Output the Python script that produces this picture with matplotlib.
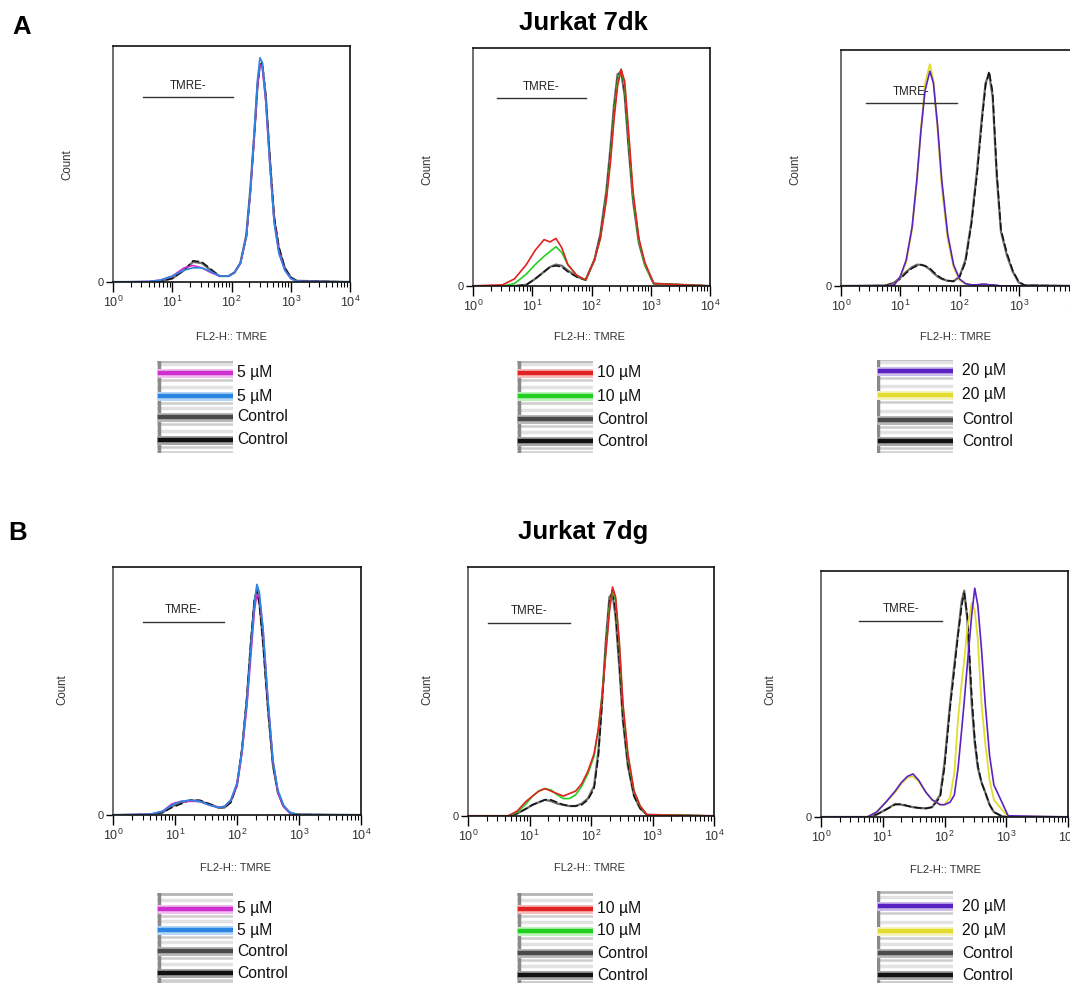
import numpy as np
import matplotlib
matplotlib.use("Agg")
import matplotlib.pyplot as plt
from matplotlib.ticker import FixedLocator, NullFormatter, FixedFormatter

plt.rcParams['font.family'] = ['Liberation Sans', 'DejaVu Sans']
plt.rcParams['mathtext.fontset'] = 'custom'
plt.rcParams['mathtext.rm'] = 'Liberation Sans'

# ---------------- data (x = log10 FL2-H, y = % of axis height) ----------------
X_A1 = [0.0, 0.6, 0.8, 1.0, 1.2, 1.35, 1.5, 1.65, 1.8, 1.95, 2.05, 2.15, 2.25, 2.32, 2.38, 2.44, 2.48, 2.52, 2.58, 2.65, 2.72, 2.8, 2.9, 3.0, 3.1, 4.0]
A1_5uM_a = [0, 0.2, 0.8, 2.5, 6, 7, 6, 4, 2.5, 2.5, 4, 8, 19, 38, 60, 83, 92, 91, 76, 49, 26, 13, 5, 1.5, 0.3, 0]
A1_5uM_b = [0, 0.2, 0.8, 2.5, 5, 6, 6, 4.5, 2.5, 2.5, 4, 8, 19, 39, 62, 86, 95, 93, 77, 49, 25, 12, 5, 1.5, 0.3, 0]
A1_ctrl_a = [0, 0, 0.3, 1.5, 5, 8.5, 8, 5, 2.5, 2.5, 4, 8, 20, 40, 61, 84, 92, 92, 78, 51, 27, 14, 6, 2, 0.5, 0]
A1_ctrl_b = [0, 0, 0.3, 1.5, 5, 9, 8.5, 5.5, 2.5, 2.5, 4, 8, 19, 39, 60, 83, 92, 93, 79, 52, 28, 15, 6, 2, 0.5, 0]

X_A2 = [0.0, 0.5, 0.7, 0.9, 1.05, 1.2, 1.3, 1.4, 1.5, 1.6, 1.75, 1.9, 2.05, 2.15, 2.25, 2.32, 2.38, 2.44, 2.5, 2.56, 2.62, 2.7, 2.8, 2.9, 3.05, 4.0]
A2_10uM_a = [0, 0.5, 3, 9, 15, 19.5, 18.5, 20, 16, 9, 4.5, 2.5, 11, 20, 36, 52, 70, 84, 91, 86, 67, 40, 20, 10, 1, 0]
A2_10uM_b = [0, 0, 1, 5, 9, 12.5, 14.5, 16.5, 14, 9, 4.5, 2.5, 11, 20, 37, 54, 72, 86, 91, 84, 64, 38, 19, 9, 1, 0]
A2_ctrl_a = [0, 0, 0, 0.5, 3, 6, 8, 9, 8.5, 6.5, 4, 2.5, 11, 22, 40, 58, 76, 89, 90, 80, 60, 36, 18, 9, 1, 0]
A2_ctrl_b = [0, 0, 0, 0.5, 3, 6, 8, 8.5, 8, 6, 3.8, 2.5, 11, 21, 38, 56, 74, 87, 91, 82, 62, 37, 19, 9, 1, 0]

X_A3 = [0.0, 0.75, 0.9, 1.0, 1.1, 1.2, 1.28, 1.35, 1.42, 1.5, 1.56, 1.63, 1.7, 1.8, 1.9, 2.0, 2.1, 2.2, 2.3, 2.38, 2.44, 2.5, 2.56, 2.63, 2.7, 2.8, 2.9, 3.0, 3.1, 4.0]
A3_20uM_a = [0, 0, 0.5, 4, 11, 25, 45, 66, 83, 91, 86, 68, 45, 22, 9, 3, 1, 0.5, 0.5, 0.8, 0.8, 0.5, 0.5, 0.3, 0, 0, 0, 0, 0, 0]
A3_20uM_b = [0, 0, 0.5, 4, 10, 24, 44, 67, 86, 94, 87, 66, 42, 20, 8, 2.5, 1, 0.5, 0.3, 0.3, 0.3, 0.3, 0.2, 0, 0, 0, 0, 0, 0, 0]
A3_ctrl_a = [0, 0.2, 1.5, 3.5, 6, 8, 9, 9, 8.5, 7, 5.5, 4, 3, 2.2, 2, 4, 11, 27, 50, 72, 86, 90, 80, 46, 23, 13, 6, 1.5, 0.3, 0]
A3_ctrl_b = [0, 0.2, 1.2, 3, 5.5, 7.5, 8.5, 9, 8.5, 7.5, 6, 4.5, 3.2, 2.3, 2, 3.8, 10, 26, 48, 70, 85, 91, 82, 48, 24, 14, 6.5, 1.8, 0.3, 0]

X_B1 = [0.0, 0.6, 0.8, 0.95, 1.1, 1.25, 1.4, 1.55, 1.7, 1.8, 1.9, 2.0, 2.08, 2.16, 2.22, 2.28, 2.32, 2.36, 2.42, 2.5, 2.58, 2.66, 2.75, 2.85, 2.97, 4.0]
B1_5uM_a = [0, 0.3, 1.5, 4.5, 5.5, 5.5, 5.5, 4, 3, 3.5, 6, 12, 25, 44, 63, 82, 89, 88, 75, 46, 22, 9, 3.5, 0.8, 0.1, 0]
B1_5uM_b = [0, 0.3, 1.5, 4, 5.5, 6, 5.5, 4, 3, 3.5, 6, 13, 26, 46, 66, 85, 93, 90, 75, 46, 22, 10, 4, 1, 0.2, 0]
B1_ctrl_a = [0, 0.2, 1, 3.5, 5, 6, 5.5, 4.5, 3, 3, 5.5, 12, 26, 47, 68, 86, 91, 86, 70, 43, 20, 9, 3.5, 1, 0.2, 0]
B1_ctrl_b = [0, 0.2, 1, 3, 4.5, 6, 6, 4.5, 3, 3, 5, 12, 27, 48, 69, 87, 90, 85, 69, 42, 20, 9, 3.5, 1, 0.2, 0]

X_B2 = [0.0, 0.65, 0.8, 0.95, 1.05, 1.15, 1.25, 1.35, 1.45, 1.55, 1.65, 1.75, 1.85, 1.95, 2.05, 2.12, 2.18, 2.24, 2.3, 2.35, 2.4, 2.46, 2.52, 2.6, 2.7, 2.8, 2.91, 4.0]
B2_10uM_a = [0, 0, 2, 6, 8, 10, 11, 10, 9, 8, 9, 10, 13, 18, 25, 35, 48, 65, 82, 92, 88, 70, 45, 25, 10, 4, 0.5, 0]
B2_10uM_b = [0, 0, 1.5, 5, 8, 10, 11, 10.5, 8.5, 7, 7, 8.5, 12, 17, 24, 35, 49, 66, 84, 90, 87, 69, 44, 24, 10, 4, 0.5, 0]
B2_ctrl_a = [0, 0, 1, 3, 4.5, 5.5, 6.5, 6, 5, 4.5, 4, 4, 5, 7, 12, 26, 46, 70, 88, 89, 80, 60, 38, 20, 8, 3, 0.5, 0]
B2_ctrl_b = [0, 0, 1, 3, 4.5, 5.5, 6.5, 6.5, 5.5, 4.5, 4, 4, 4.5, 6.5, 11, 24, 45, 68, 86, 91, 82, 62, 39, 21, 8, 3, 0.5, 0]

X_B3 = [0.0, 0.75, 0.9, 1.05, 1.2, 1.3, 1.4, 1.49, 1.58, 1.7, 1.8, 1.93, 2.0, 2.09, 2.16, 2.22, 2.28, 2.32, 2.37, 2.44, 2.49, 2.54, 2.6, 2.66, 2.73, 2.8, 2.93, 3.03, 4.0]
B3_20uM_a = [0, 0, 2, 6, 10.5, 14, 16.5, 17.5, 15, 10, 7, 5, 5, 6, 9, 20, 36, 47, 62, 82, 93, 86, 68, 46, 25, 13, 6, 0.5, 0]
B3_20uM_b = [0, 0, 2, 6, 10, 13.5, 16, 16.5, 14.5, 10, 7, 5, 5, 8, 18, 40, 55, 64, 77, 87, 84, 72, 46, 30, 15, 7, 3, 0.3, 0]
B3_ctrl_a = [0, 0, 1, 3, 5.3, 5, 4.5, 4, 3.7, 3.5, 4, 9, 22, 46, 62, 75, 88, 92, 80, 46, 30, 20, 14, 10, 5, 2, 0.3, 0, 0]
B3_ctrl_b = [0, 0, 1, 3, 5, 5.3, 4.5, 4, 3.7, 3.5, 4, 8, 20, 44, 60, 74, 86, 91, 82, 50, 32, 21, 14, 10, 5, 2, 0.3, 0, 0]

labels_5 = ["5 µM", "5 µM", "Control", "Control"]
labels_10 = ["10 µM", "10 µM", "Control", "Control"]
labels_20 = ["20 µM", "20 µM", "Control", "Control"]
gate_label = "TMRE-"
# gate limits (log10)
gates = {"A1": (0.5, 2.02), "A2": (0.41, 1.9), "A3": (0.43, 1.95),
         "B1": (0.48, 1.79), "B2": (0.33, 1.66), "B3": (0.62, 1.96)}

MAG, BLU = '#cf2fcf', '#2a86e2'
RED, GRN = '#e02222', '#22d022'
PUR, YEL = '#5a22c0', '#e2dc30'
C1, C2 = '#6a6a6a', '#111111'

# ---------------- figure ----------------
W, H = 1070, 983
fig = plt.figure(figsize=(W / 100, H / 100), dpi=100)


def ax_at(l, t, r, b):
    return fig.add_axes([l / W, 1 - b / H, (r - l) / W, (b - t) / H])


def ftext(x, y, s, **kw):
    fig.text(x / W, 1 - y / H, s, **kw)


def hist_panel(box, X, curves, gate, gate_y):
    ax = ax_at(*box)
    xs = 10 ** np.array(X)
    for ys, col, lw, dash in curves:
        ln, = ax.plot(xs, ys, color=col, lw=lw, solid_joinstyle='round')
        if dash:
            ln.set_dashes(dash)
    ax.set_xscale('log')
    ax.set_xlim(1, 1e4)
    ax.set_ylim(0, 100)
    ax.xaxis.set_major_locator(FixedLocator([1, 10, 100, 1000, 10000]))
    ax.xaxis.set_major_formatter(FixedFormatter([r'$\mathregular{10^{%d}}$' % i for i in range(5)]))
    minors = [m * 10 ** d for d in range(4) for m in range(2, 10)]
    ax.xaxis.set_minor_locator(FixedLocator(minors))
    ax.xaxis.set_minor_formatter(NullFormatter())
    ax.tick_params(axis='x', which='major', length=7, width=1, pad=2,
                   labelsize=9, labelcolor='#333333')
    ax.tick_params(axis='x', which='minor', length=3.5, width=0.8)
    ax.set_yticks([0])
    ax.set_yticklabels(['0'])
    ax.tick_params(axis='y', length=5, width=1, labelsize=8, labelcolor='#333333', pad=2)
    for s in ax.spines.values():
        s.set_linewidth(1.2)
        s.set_color('#111111')
    ax.spines['left'].set_color('#555555')
    g0, g1 = gate
    ax.plot([10 ** g0, 10 ** g1], [gate_y, gate_y], color='#333333', lw=1.0)
    ax.text(10 ** ((g0 + g1) / 2), gate_y + 2.3, gate_label, ha='center', va='bottom',
            fontsize=8.3, color='#222222')
    return ax


def legend(x0, x1, top, bot, ys, colors, lights, labels, tx):
    ax = ax_at(x0, top, x1, bot)
    ax.set_xlim(x0, x1)
    ax.set_ylim(bot, top)
    ax.axis('off')
    # background stripes
    ax.plot([x0, x1], [top + 1, top + 1], color='#b4b4b4', lw=2)
    ax.plot([x0, x1], [bot - 1, bot - 1], color='#d4d4d4', lw=2)
    for y in ys:
        ax.plot([x0, x1], [y - 9, y - 9], color='#e2e2e2', lw=2.5)
        ax.plot([x0, x1], [y + 7, y + 7], color='#cdcdcd', lw=1.8)
    ax.plot([x0 + 1.5, x0 + 1.5], [top, bot], color='#8a8a8a', lw=2.5)
    for y, c, lc in zip(ys, colors, lights):
        ax.plot([x0 + 3, x1], [y, y], color=lc, lw=6.5)
        ax.plot([x0 + 3, x1], [y, y], color=c, lw=3.2)
    for y, lab in zip(ys, labels):
        ftext(tx, y, lab, ha='left', va='center', fontsize=11.3, color='#111111')


# Row A
hist_panel((113, 46, 350, 282), X_A1,
           [(A1_ctrl_a, C1, 1.6, None), (A1_ctrl_b, C2, 1.1, (5, 2)),
            (A1_5uM_a, MAG, 1.2, None), (A1_5uM_b, BLU, 1.2, None)], gates["A1"], 78.4)
hist_panel((473, 48, 710, 286), X_A2,
           [(A2_ctrl_a, C1, 1.6, None), (A2_ctrl_b, C2, 1.1, (5, 2)),
            (A2_10uM_b, GRN, 1.2, None), (A2_10uM_a, RED, 1.2, None)], gates["A2"], 79)
hist_panel((841, 50, 1078, 286), X_A3,
           [(A3_ctrl_a, C1, 1.6, None), (A3_ctrl_b, C2, 1.1, (5, 2)),
            (A3_20uM_b, YEL, 1.3, None), (A3_20uM_a, PUR, 1.2, None)], gates["A3"], 77.5)
# Row B
hist_panel((113, 567, 361, 815), X_B1,
           [(B1_ctrl_a, C1, 1.6, None), (B1_ctrl_b, C2, 1.1, (5, 2)),
            (B1_5uM_a, MAG, 1.2, None), (B1_5uM_b, BLU, 1.2, None)], gates["B1"], 78)
hist_panel((468, 567, 714, 816), X_B2,
           [(B2_ctrl_a, C1, 1.6, None), (B2_ctrl_b, C2, 1.1, (5, 2)),
            (B2_10uM_b, GRN, 1.2, None), (B2_10uM_a, RED, 1.2, None)], gates["B2"], 77.5)
hist_panel((821, 571, 1068, 817), X_B3,
           [(B3_ctrl_a, C1, 1.6, None), (B3_ctrl_b, C2, 1.1, (5, 2)),
            (B3_20uM_b, YEL, 1.3, None), (B3_20uM_a, PUR, 1.2, None)], gates["B3"], 79.7)

# axis labels
for (x, y) in [(67, 165), (427, 170), (795, 170), (62, 690), (427, 690), (770, 690)]:
    ftext(x, y, "Count", rotation=90, ha='center', va='center', fontsize=8.3, color='#333333')
for (x, y) in [(232, 337), (590, 337), (955, 337), (235, 868), (590, 868), (945, 870)]:
    ftext(x, y, "FL2-H:: TMRE", ha='center', va='center', fontsize=8, color='#333333')

# titles
ftext(583, 23, "Jurkat 7dk", ha='center', va='center', fontsize=18.5, fontweight='bold')
ftext(583, 532, "Jurkat 7dg", ha='center', va='center', fontsize=18.5, fontweight='bold')
ftext(22, 27, "A", ha='center', va='center', fontsize=18.5, fontweight='bold')
ftext(18, 533, "B", ha='center', va='center', fontsize=18.5, fontweight='bold')

# legends
CTRL_COLS = ['#4a4a4a', '#111111']
CTRL_LIGHT = ['#b8b8b8', '#a6a6a6']
legend(157, 233, 361, 453, [373, 396, 417, 440], [MAG, BLU] + CTRL_COLS,
       ['#efbdef', '#b5d6f6'] + CTRL_LIGHT, labels_5, 237)
legend(517, 593, 361, 453, [373, 396, 419, 441], [RED, GRN] + CTRL_COLS,
       ['#f5bcbc', '#bdf2bd'] + CTRL_LIGHT, labels_10, 597)
legend(877, 953, 360, 453, [371, 395, 420, 441], [PUR, YEL] + CTRL_COLS,
       ['#cbbcec', '#f5f2bd'] + CTRL_LIGHT, labels_20, 962)
legend(157, 233, 893, 983, [909, 930, 951, 973], [MAG, BLU] + CTRL_COLS,
       ['#efbdef', '#b5d6f6'] + CTRL_LIGHT, labels_5, 237)
legend(517, 593, 893, 983, [909, 931, 953, 975], [RED, GRN] + CTRL_COLS,
       ['#f5bcbc', '#bdf2bd'] + CTRL_LIGHT, labels_10, 597)
legend(877, 953, 891, 983, [906, 931, 953, 975], [PUR, YEL] + CTRL_COLS,
       ['#cbbcec', '#f5f2bd'] + CTRL_LIGHT, labels_20, 962)

fig.savefig("out.png", dpi=100)
